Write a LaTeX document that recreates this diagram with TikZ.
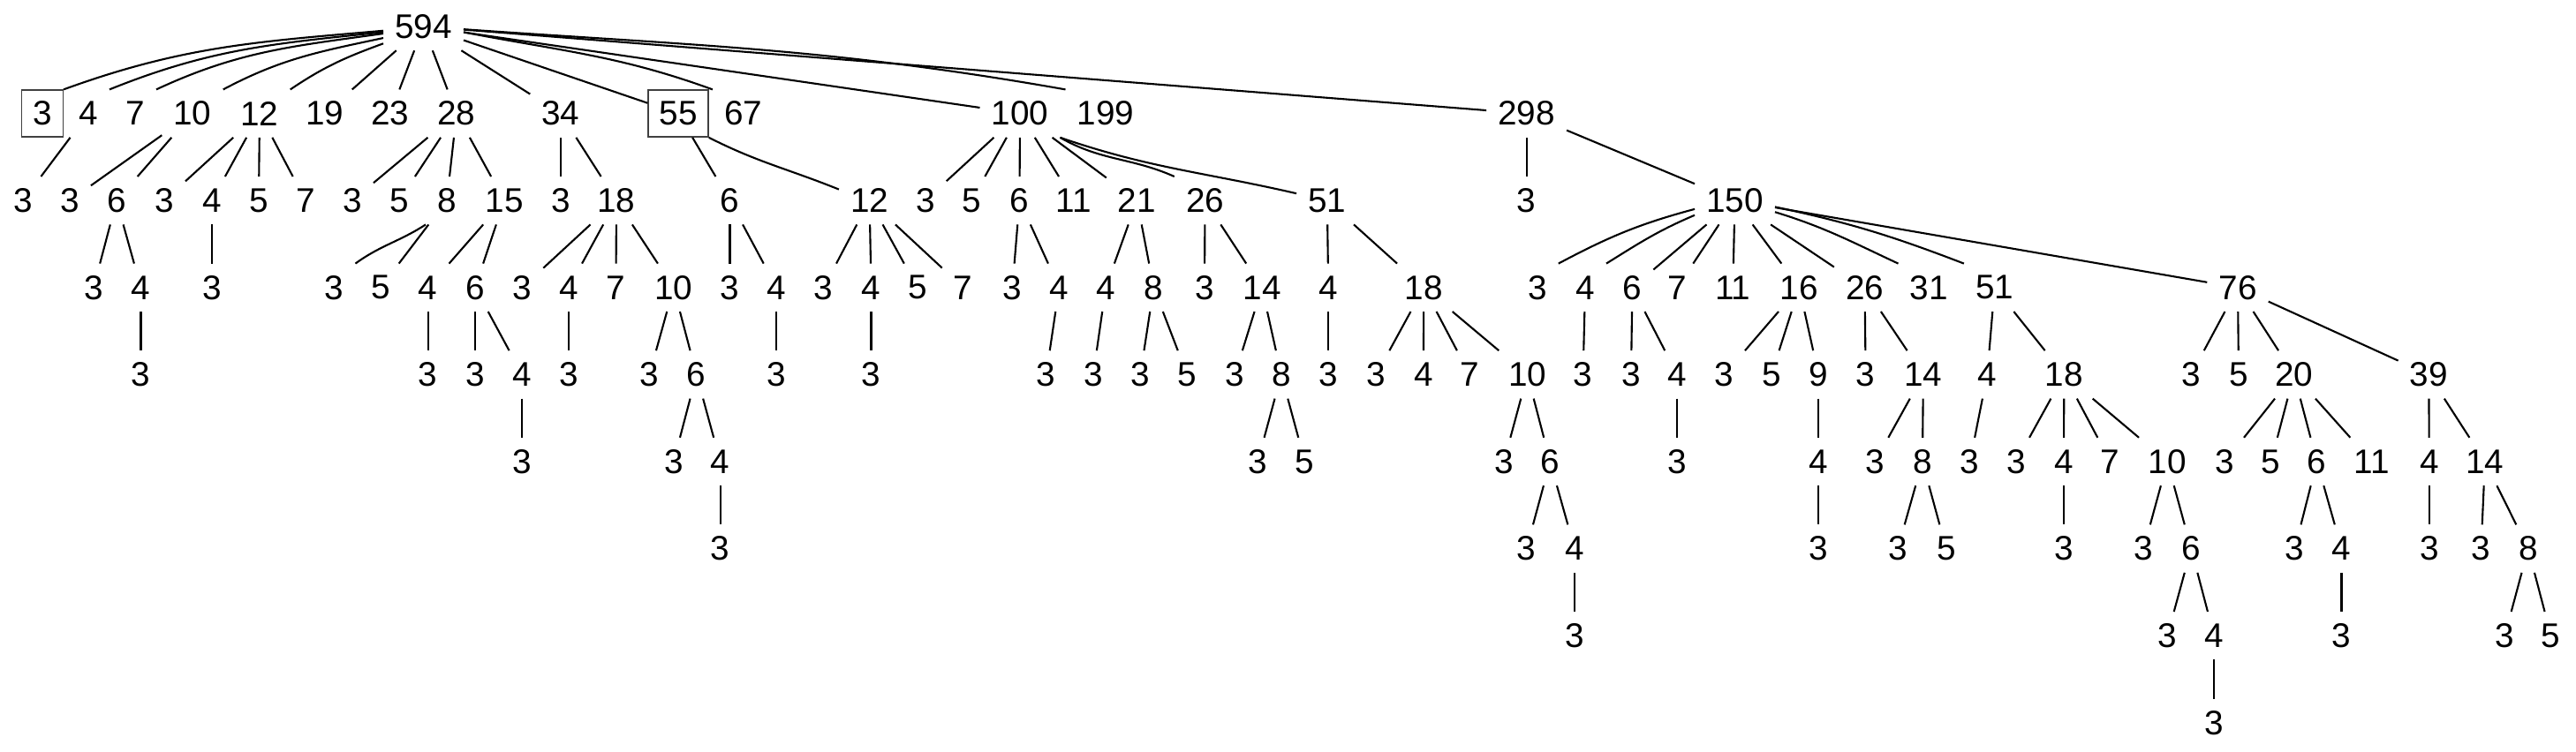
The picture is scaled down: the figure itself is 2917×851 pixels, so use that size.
\documentclass[tikz,border=0pt]{standalone}
\usepackage{fontspec}
\setmainfont{Liberation Sans}
\tikzset{
  nd/.style={inner xsep=0.125cm, inner ysep=0pt, minimum height=0.53cm, font=\fontsize{11}{13}\selectfont},
  boxnd/.style={nd, draw=black!75, line width=0.4pt},
  edge/.style={line width=0.6pt, black},
}
\newcommand{\TN}[5][nd]{\node[#1] (#2) at (#4,{30+98.6*#5}) {#3};}
\newcommand{\TE}[2]{\draw[edge] (#1) -- (#2);}
\begin{document}
\begin{tikzpicture}[x=0.01cm,y=-0.01cm]
\useasboundingbox (0,0) rectangle (2917,851);
% level 0
\TN{r}{594}{479.5}{0}
% level 1
\TN[boxnd]{a}{3}{48}{1}
\TN{b}{4}{100}{1}
\TN{c}{7}{153}{1}
\TN{d}{10}{218}{1}
\TN{e}{12}{294}{1}
\TN{f}{19}{368}{1}
\TN{g}{23}{442}{1}
\TN{h}{28}{517}{1}
\TN{i}{34}{635}{1}
\TN[boxnd]{j}{55}{768}{1}
\TN{k}{67}{841.6}{1}
\TN{l}{100}{1155}{1}
\TN{m}{199}{1252}{1}
\TN{n}{298}{1728.6}{1}
% level 2
\TN{b1}{3}{26}{2}
\TN{d1}{3}{79}{2}
\TN{d2}{6}{132}{2}
\TN{e1}{3}{186}{2}
\TN{e2}{4}{240}{2}
\TN{e3}{5}{293}{2}
\TN{e4}{7}{346}{2}
\TN{h1}{3}{399}{2}
\TN{h2}{5}{452}{2}
\TN{h3}{8}{506}{2}
\TN{h4}{15}{571}{2}
\TN{i1}{3}{635}{2}
\TN{i2}{18}{698}{2}
\TN{j1}{6}{826.5}{2}
\TN{j2}{12}{984.6}{2}
\TN{l1}{3}{1047.8}{2}
\TN{l2}{5}{1100.2}{2}
\TN{l3}{6}{1154.5}{2}
\TN{l4}{11}{1215.8}{2}
\TN{l5}{21}{1287.5}{2}
\TN{l6}{26}{1364.5}{2}
\TN{l7}{51}{1502.8}{2}
\TN{n1}{3}{1728.6}{2}
\TN{n2}{150}{1964.5}{2}
% level 3
\TN{d2a}{3}{106}{3}
\TN{d2b}{4}{159.5}{3}
\TN{e2a}{3}{240}{3}
\TN{h3a}{3}{378.5}{3}
\TN{h3b}{5}{431}{3}
\TN{h4a}{4}{484.7}{3}
\TN{h4b}{6}{538}{3}
\TN{i2a}{3}{591.3}{3}
\TN{i2b}{4}{644.2}{3}
\TN{i2c}{7}{697.5}{3}
\TN{i2d}{10}{762.8}{3}
\TN{j1a}{3}{826.5}{3}
\TN{j1b}{4}{879.3}{3}
\TN{j2a}{3}{932.7}{3}
\TN{j2b}{4}{986.5}{3}
\TN{j2c}{5}{1038.8}{3}
\TN{j2d}{7}{1090.7}{3}
\TN{l3a}{3}{1146.4}{3}
\TN{l3b}{4}{1199.3}{3}
\TN{l5a}{4}{1252.1}{3}
\TN{l5b}{8}{1306.4}{3}
\TN{l6a}{3}{1364}{3}
\TN{l6b}{14}{1429}{3}
\TN{l7a}{4}{1504.2}{3}
\TN{l7b}{18}{1612.3}{3}
\TN{n2a}{3}{1740.8}{3}
\TN{n2b}{4}{1795}{3}
\TN{n2c}{6}{1848.4}{3}
\TN{n2d}{7}{1899.3}{3}
\TN{n2e}{11}{1962.3}{3}
\TN{n2f}{16}{2037.4}{3}
\TN{n2g}{26}{2111.6}{3}
\TN{n2h}{31}{2184.2}{3}
\TN{n2i}{51}{2258.6}{3}
\TN{n2j}{76}{2534}{3}
% level 4
\TN{d2b1}{3}{159.5}{4}
\TN{h4a1}{3}{484.7}{4}
\TN{h4b1}{3}{538}{4}
\TN{h4b2}{4}{591.3}{4}
\TN{i2b1}{3}{644.2}{4}
\TN{i2d1}{3}{735.4}{4}
\TN{i2d2}{6}{788.7}{4}
\TN{j1b1}{3}{879.3}{4}
\TN{j2b1}{3}{986.5}{4}
\TN{l3b1}{3}{1184.7}{4}
\TN{l5a1}{3}{1238}{4}
\TN{l5b1}{3}{1291.3}{4}
\TN{l5b2}{5}{1344.2}{4}
\TN{l6b1}{3}{1398.4}{4}
\TN{l6b2}{8}{1450.9}{4}
\TN{l7a1}{3}{1504.2}{4}
\TN{l7b1}{3}{1558.5}{4}
\TN{l7b2}{4}{1611.8}{4}
\TN{l7b3}{7}{1664.2}{4}
\TN{l7b4}{10}{1729.6}{4}
\TN{n2b1}{3}{1792.6}{4}
\TN{n2c1}{3}{1847}{4}
\TN{n2c2}{4}{1899.3}{4}
\TN{n2f1}{3}{1952.6}{4}
\TN{n2f2}{5}{2005.9}{4}
\TN{n2f3}{9}{2059.2}{4}
\TN{n2g1}{3}{2112.6}{4}
\TN{n2g2}{14}{2177.9}{4}
\TN{n2i1}{4}{2250.3}{4}
\TN{n2i2}{18}{2337.4}{4}
\TN{n2j1}{3}{2481.2}{4}
\TN{n2j2}{5}{2535}{4}
\TN{n2j3}{20}{2597.6}{4}
\TN{n2j4}{39}{2750.3}{4}
% level 5
\TN{h4b2a}{3}{591.3}{5}
\TN{i2d2a}{3}{762.8}{5}
\TN{i2d2b}{4}{815.6}{5}
\TN{l6b2a}{3}{1424.2}{5}
\TN{l6b2b}{5}{1477.6}{5}
\TN{l7b4a}{3}{1703}{5}
\TN{l7b4b}{6}{1755.3}{5}
\TN{n2c2a}{3}{1899.3}{5}
\TN{n2f3a}{4}{2059.2}{5}
\TN{n2g2a}{3}{2123.2}{5}
\TN{n2g2b}{8}{2176.9}{5}
\TN{n2i1a}{3}{2230.7}{5}
\TN{n2i2a}{3}{2283}{5}
\TN{n2i2b}{4}{2336.9}{5}
\TN{n2i2c}{7}{2389.7}{5}
\TN{n2i2d}{10}{2454.3}{5}
\TN{n2j3a}{3}{2519.4}{5}
\TN{n2j3b}{5}{2571.7}{5}
\TN{n2j3c}{6}{2623.6}{5}
\TN{n2j3d}{11}{2685.7}{5}
\TN{n2j4a}{4}{2750.8}{5}
\TN{n2j4b}{14}{2813.9}{5}
% level 6
\TN{i2d2b1}{3}{815.6}{6}
\TN{l7b4b1}{3}{1728.6}{6}
\TN{l7b4b2}{4}{1783}{6}
\TN{n2f3a1}{3}{2059.2}{6}
\TN{n2g2b1}{3}{2149}{6}
\TN{n2g2b2}{5}{2203.8}{6}
\TN{n2i2b1}{3}{2336.9}{6}
\TN{n2i2d1}{3}{2427.4}{6}
\TN{n2i2d2}{6}{2481.2}{6}
\TN{n2j3c1}{3}{2598.6}{6}
\TN{n2j3c2}{4}{2651.5}{6}
\TN{n2j4a1}{3}{2750.8}{6}
\TN{n2j4b1}{3}{2809.5}{6}
\TN{n2j4b2}{8}{2862.8}{6}
% level 7
\TN{l7b4b2a}{3}{1783}{7}
\TN{n2i2d2a}{3}{2454.3}{7}
\TN{n2i2d2b}{4}{2507.1}{7}
\TN{n2j3c2a}{3}{2651.5}{7}
\TN{n2j4b2a}{3}{2836.4}{7}
\TN{n2j4b2b}{5}{2888.7}{7}
% level 8
\TN{n2i2d2b1}{3}{2507.1}{8}

% ---- edges ----
% root, curved
\draw[edge] (r.186) to[out=185,in=20] (a.north east);
\draw[edge] (r.188) to[out=186,in=22] (b.north east);
\draw[edge] (r.190) to[out=188,in=25] (c.north east);
\draw[edge] (r.196) to[out=192,in=28] (d.north east);
\draw[edge] (r.203) to[out=200,in=34] (e.north east);
\draw[edge] (r.-8) to[out=-11,in=160] (k.north west);
\draw[edge] (r.-4) to[out=-4,in=170] (m.north west);
% root, straight
\TE{r}{f}\TE{r}{g}\TE{r}{h}\TE{r}{i}\TE{r}{j}\TE{r}{l}\TE{r}{n}
% level 1 -> 2
\TE{b}{b1}
\TE{d}{d1}\TE{d}{d2}
\TE{e}{e1}\TE{e}{e2}\TE{e}{e3}\TE{e}{e4}
\TE{h}{h1}\TE{h}{h2}\TE{h}{h3}\TE{h}{h4}
\TE{i}{i1}\TE{i}{i2}
\TE{j}{j1}
\draw[edge] (j.south east) to[out=-27,in=158] (j2.160);
\TE{l}{l1}\TE{l}{l2}\TE{l}{l3}\TE{l}{l4}\TE{l}{l5}
\draw[edge] (l.south east) to[out=-30,in=156] (l6.north west);
\draw[edge] (l.south east) to[out=-19,in=167] (l7.167);
\TE{n}{n1}\TE{n}{n2}
% level 2 -> 3
\TE{d2}{d2a}\TE{d2}{d2b}
\TE{e2}{e2a}
\draw[edge] (h3.south west) to[out=213,in=36] (h3a.north east);
\TE{h3}{h3b}
\TE{h4}{h4a}\TE{h4}{h4b}
\TE{i2}{i2a}\TE{i2}{i2b}\TE{i2}{i2c}\TE{i2}{i2d}
\TE{j1}{j1a}\TE{j1}{j1b}
\TE{j2}{j2a}\TE{j2}{j2b}\TE{j2}{j2c}\TE{j2}{j2d}
\TE{l3}{l3a}\TE{l3}{l3b}
\TE{l5}{l5a}\TE{l5}{l5b}
\TE{l6}{l6a}\TE{l6}{l6b}
\TE{l7}{l7a}\TE{l7}{l7b}
\draw[edge] (n2.192) to[out=195,in=28] (n2a.north east);
\draw[edge] (n2.200) to[out=203,in=32] (n2b.north east);
\TE{n2}{n2c}\TE{n2}{n2d}\TE{n2}{n2e}\TE{n2}{n2f}\TE{n2}{n2g}
\draw[edge] (n2.-16) to[out=-17,in=155] (n2h.north west);
\draw[edge] (n2.-9) to[out=-12,in=159] (n2i.north west);
\TE{n2}{n2j}
% level 3 -> 4
\TE{d2b}{d2b1}
\TE{h4a}{h4a1}
\TE{h4b}{h4b1}\TE{h4b}{h4b2}
\TE{i2b}{i2b1}
\TE{i2d}{i2d1}\TE{i2d}{i2d2}
\TE{j1b}{j1b1}
\TE{j2b}{j2b1}
\TE{l3b}{l3b1}
\TE{l5a}{l5a1}
\TE{l5b}{l5b1}\TE{l5b}{l5b2}
\TE{l6b}{l6b1}\TE{l6b}{l6b2}
\TE{l7a}{l7a1}
\TE{l7b}{l7b1}\TE{l7b}{l7b2}\TE{l7b}{l7b3}\TE{l7b}{l7b4}
\TE{n2b}{n2b1}
\TE{n2c}{n2c1}\TE{n2c}{n2c2}
\TE{n2f}{n2f1}\TE{n2f}{n2f2}\TE{n2f}{n2f3}
\TE{n2g}{n2g1}\TE{n2g}{n2g2}
\TE{n2i}{n2i1}\TE{n2i}{n2i2}
\TE{n2j}{n2j1}\TE{n2j}{n2j2}\TE{n2j}{n2j3}\TE{n2j}{n2j4}
% level 4 -> 5
\TE{h4b2}{h4b2a}
\TE{i2d2}{i2d2a}\TE{i2d2}{i2d2b}
\TE{l6b2}{l6b2a}\TE{l6b2}{l6b2b}
\TE{l7b4}{l7b4a}\TE{l7b4}{l7b4b}
\TE{n2c2}{n2c2a}
\TE{n2f3}{n2f3a}
\TE{n2g2}{n2g2a}\TE{n2g2}{n2g2b}
\TE{n2i1}{n2i1a}
\TE{n2i2}{n2i2a}\TE{n2i2}{n2i2b}\TE{n2i2}{n2i2c}\TE{n2i2}{n2i2d}
\TE{n2j3}{n2j3a}\TE{n2j3}{n2j3b}\TE{n2j3}{n2j3c}\TE{n2j3}{n2j3d}
\TE{n2j4}{n2j4a}\TE{n2j4}{n2j4b}
% level 5 -> 6
\TE{i2d2b}{i2d2b1}
\TE{l7b4b}{l7b4b1}\TE{l7b4b}{l7b4b2}
\TE{n2f3a}{n2f3a1}
\TE{n2g2b}{n2g2b1}\TE{n2g2b}{n2g2b2}
\TE{n2i2b}{n2i2b1}
\TE{n2i2d}{n2i2d1}\TE{n2i2d}{n2i2d2}
\TE{n2j3c}{n2j3c1}\TE{n2j3c}{n2j3c2}
\TE{n2j4a}{n2j4a1}
\TE{n2j4b}{n2j4b1}\TE{n2j4b}{n2j4b2}
% level 6 -> 7
\TE{l7b4b2}{l7b4b2a}
\TE{n2i2d2}{n2i2d2a}\TE{n2i2d2}{n2i2d2b}
\TE{n2j3c2}{n2j3c2a}
\TE{n2j4b2}{n2j4b2a}\TE{n2j4b2}{n2j4b2b}
% level 7 -> 8
\TE{n2i2d2b}{n2i2d2b1}
\end{tikzpicture}
\end{document}
